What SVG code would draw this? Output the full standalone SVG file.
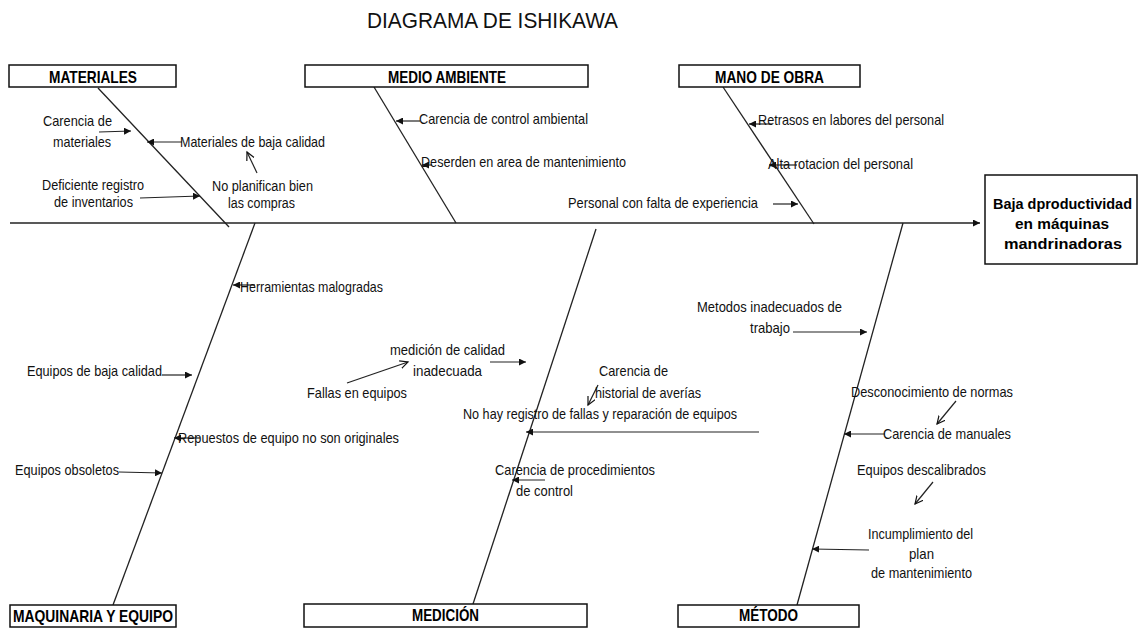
<svg xmlns="http://www.w3.org/2000/svg" width="1140" height="628" viewBox="0 0 1140 628">
<style>
.t{font-family:"Liberation Sans Narrow","Liberation Sans",Arial,sans-serif;font-size:15px;fill:#111}
.s{font-size:14px}
.h{font-family:"Liberation Sans Narrow","Liberation Sans",Arial,sans-serif;font-size:17px;font-weight:bold;fill:#000}
.e{font-family:"Liberation Sans Narrow","Liberation Sans",Arial,sans-serif;font-size:15px;font-weight:bold;fill:#000}
.title{font-family:"Liberation Sans",Arial,sans-serif;font-size:22px;fill:#111}
.box{fill:#fff;stroke:#111;stroke-width:1.5}
.bone{stroke:#222;stroke-width:1.3;fill:none}
.ar{stroke:#222;stroke-width:1.2;fill:none;marker-end:url(#fa)}
.ao{stroke:#222;stroke-width:1.2;fill:none;marker-end:url(#oa)}
</style>
<defs>
<marker id="fa" markerUnits="userSpaceOnUse" markerWidth="8" markerHeight="7" refX="7" refY="3.5" orient="auto"><path d="M0,0 L7,3.5 L0,7 z" fill="#111"/></marker>
<marker id="oa" markerUnits="userSpaceOnUse" markerWidth="10" markerHeight="10" refX="8" refY="4.5" orient="auto"><path d="M0,0.5 L8,4.5 L0,8.5" fill="none" stroke="#111" stroke-width="1.2"/></marker>
</defs>
<rect width="1140" height="628" fill="#fff"/>
<text class="title" x="367" y="28" textLength="251" lengthAdjust="spacingAndGlyphs">DIAGRAMA DE ISHIKAWA</text>

<g id="connectors">
<line class="bone" x1="10" y1="223" x2="980" y2="223" stroke-width="1.5" style="marker-end:url(#fa)"/>
<line class="bone" x1="98" y1="88" x2="229" y2="227"/>
<line class="bone" x1="374" y1="87" x2="456" y2="223"/>
<line class="bone" x1="723" y1="87" x2="814" y2="224"/>
<line class="bone" x1="255" y1="223" x2="113" y2="605"/>
<line class="bone" x1="596" y1="229" x2="473" y2="604"/>
<line class="bone" x1="903" y1="223" x2="797" y2="605"/>
<line class="ar" x1="99" y1="132" x2="131" y2="131"/>
<line class="ar" x1="182" y1="142" x2="147" y2="142"/>
<line class="ao" x1="257" y1="173" x2="247" y2="152"/>
<line class="ar" x1="140" y1="198" x2="200" y2="196"/>
<line class="ar" x1="420" y1="121" x2="396" y2="121"/>
<line class="ar" x1="432" y1="165" x2="422" y2="165"/>
<line class="ar" x1="773" y1="204" x2="798" y2="204"/>
<line class="ar" x1="772" y1="124" x2="749" y2="124"/>
<line class="ar" x1="797" y1="165" x2="769" y2="165"/>
<line class="ar" x1="255" y1="285" x2="233" y2="285"/>
<line class="ar" x1="162" y1="375" x2="192" y2="375"/>
<line class="ar" x1="200" y1="438" x2="174" y2="438"/>
<line class="ar" x1="119" y1="472" x2="162" y2="473"/>
<line class="ao" x1="347" y1="383" x2="408" y2="362"/>
<line class="ar" x1="490" y1="362" x2="526" y2="362"/>
<line class="ao" x1="598" y1="385" x2="588" y2="405"/>
<line class="ar" x1="759" y1="432" x2="526" y2="432"/>
<line class="ar" x1="545" y1="480" x2="512" y2="480"/>
<line class="ar" x1="793" y1="332" x2="867" y2="332"/>
<line class="ao" x1="956" y1="401" x2="937" y2="424"/>
<line class="ar" x1="885" y1="434" x2="844" y2="434"/>
<line class="ao" x1="933" y1="482" x2="915" y2="504"/>
<line class="ar" x1="869" y1="550" x2="812" y2="549"/>
</g>

<g id="materiales">
<rect class="box" x="9" y="65" width="167" height="22"/>
<text class="h" x="49" y="83" textLength="88" lengthAdjust="spacingAndGlyphs">MATERIALES</text>
</g>
<g id="medio-ambiente">
<rect class="box" x="305" y="65" width="283" height="22"/>
<text class="h" x="388" y="83" textLength="118" lengthAdjust="spacingAndGlyphs">MEDIO AMBIENTE</text>
</g>
<g id="mano-de-obra">
<rect class="box" x="679" y="65" width="181" height="22"/>
<text class="h" x="715" y="83" textLength="109" lengthAdjust="spacingAndGlyphs">MANO DE OBRA</text>
</g>
<g id="maquinaria">
<rect class="box" x="10" y="605" width="166" height="22" stroke-width="2"/>
<text class="h" x="13" y="622" textLength="160" lengthAdjust="spacingAndGlyphs">MAQUINARIA Y EQUIPO</text>
</g>
<g id="medicion">
<rect class="box" x="304" y="604" width="283" height="23" stroke-width="3"/>
<text class="h" x="412" y="621" textLength="67" lengthAdjust="spacingAndGlyphs">MEDICIÓN</text>
</g>
<g id="metodo">
<rect class="box" x="678" y="605" width="181" height="22"/>
<text class="h" x="739" y="621" textLength="59" lengthAdjust="spacingAndGlyphs">MÉTODO</text>
</g>
<g id="efecto">
<rect class="box" x="985" y="175" width="152" height="89"/>
<text class="e" x="993" y="209" textLength="139" lengthAdjust="spacingAndGlyphs">Baja dproductividad</text>
<text class="e" x="1015" y="229" textLength="94" lengthAdjust="spacingAndGlyphs">en máquinas</text>
<text class="e" x="1004" y="249" textLength="118" lengthAdjust="spacingAndGlyphs">mandrinadoras</text>
</g>

<g id="causas-materiales">
<text class="t" x="43" y="126" textLength="69" lengthAdjust="spacingAndGlyphs">Carencia de</text>
<text class="t" x="53" y="147" textLength="58" lengthAdjust="spacingAndGlyphs">materiales</text>
<text class="t" x="180" y="147" textLength="145" lengthAdjust="spacingAndGlyphs">Materiales de baja calidad</text>
<text class="t s" x="212" y="191" textLength="101" lengthAdjust="spacingAndGlyphs">No planifican bien</text>
<text class="t s" x="228" y="208" textLength="67" lengthAdjust="spacingAndGlyphs">las compras</text>
<text class="t s" x="42" y="190" textLength="102" lengthAdjust="spacingAndGlyphs">Deficiente registro</text>
<text class="t s" x="54" y="207" textLength="79" lengthAdjust="spacingAndGlyphs">de inventarios</text>
</g>
<g id="causas-medio-ambiente">
<text class="t" x="419" y="124" textLength="169" lengthAdjust="spacingAndGlyphs">Carencia de control ambiental</text>
<text class="t" x="421" y="167" textLength="205" lengthAdjust="spacingAndGlyphs">Deserden en area de mantenimiento</text>
<text class="t" x="568" y="208" textLength="190" lengthAdjust="spacingAndGlyphs">Personal con falta de experiencia</text>
</g>
<g id="causas-mano-de-obra">
<text class="t" x="758" y="125" textLength="186" lengthAdjust="spacingAndGlyphs">Retrasos en labores del personal</text>
<text class="t" x="768" y="169" textLength="145" lengthAdjust="spacingAndGlyphs">Alta rotacion del personal</text>
</g>
<g id="causas-maquinaria">
<text class="t" x="240" y="292" textLength="143" lengthAdjust="spacingAndGlyphs">Herramientas malogradas</text>
<text class="t" x="27" y="376" textLength="135" lengthAdjust="spacingAndGlyphs">Equipos de baja calidad</text>
<text class="t" x="178" y="443" textLength="221" lengthAdjust="spacingAndGlyphs">Repuestos de equipo no son originales</text>
<text class="t" x="15" y="475" textLength="104" lengthAdjust="spacingAndGlyphs">Equipos obsoletos</text>
</g>
<g id="causas-medicion">
<text class="t" x="307" y="398" textLength="100" lengthAdjust="spacingAndGlyphs">Fallas en equipos</text>
<text class="t" x="390" y="355" textLength="115" lengthAdjust="spacingAndGlyphs">medición de calidad</text>
<text class="t" x="413" y="376" textLength="69" lengthAdjust="spacingAndGlyphs">inadecuada</text>
<text class="t" x="599" y="376" textLength="69" lengthAdjust="spacingAndGlyphs">Carencia de</text>
<text class="t" x="595" y="398" textLength="106" lengthAdjust="spacingAndGlyphs">historial de averías</text>
<text class="t" x="463" y="419" textLength="274" lengthAdjust="spacingAndGlyphs">No hay registro de fallas y reparación de equipos</text>
<text class="t" x="495" y="475" textLength="160" lengthAdjust="spacingAndGlyphs">Carencia de procedimientos</text>
<text class="t" x="516" y="496" textLength="57" lengthAdjust="spacingAndGlyphs">de control</text>
</g>
<g id="causas-metodo">
<text class="t" x="697" y="312" textLength="145" lengthAdjust="spacingAndGlyphs">Metodos inadecuados de</text>
<text class="t" x="750" y="333" textLength="40" lengthAdjust="spacingAndGlyphs">trabajo</text>
<text class="t" x="851" y="397" textLength="162" lengthAdjust="spacingAndGlyphs">Desconocimiento de normas</text>
<text class="t" x="883" y="439" textLength="128" lengthAdjust="spacingAndGlyphs">Carencia de manuales</text>
<text class="t" x="857" y="475" textLength="129" lengthAdjust="spacingAndGlyphs">Equipos descalibrados</text>
<text class="t" x="868" y="539" textLength="105" lengthAdjust="spacingAndGlyphs">Incumplimiento del</text>
<text class="t" x="909" y="559" textLength="25" lengthAdjust="spacingAndGlyphs">plan</text>
<text class="t" x="871" y="578" textLength="101" lengthAdjust="spacingAndGlyphs">de mantenimiento</text>
</g>
</svg>
